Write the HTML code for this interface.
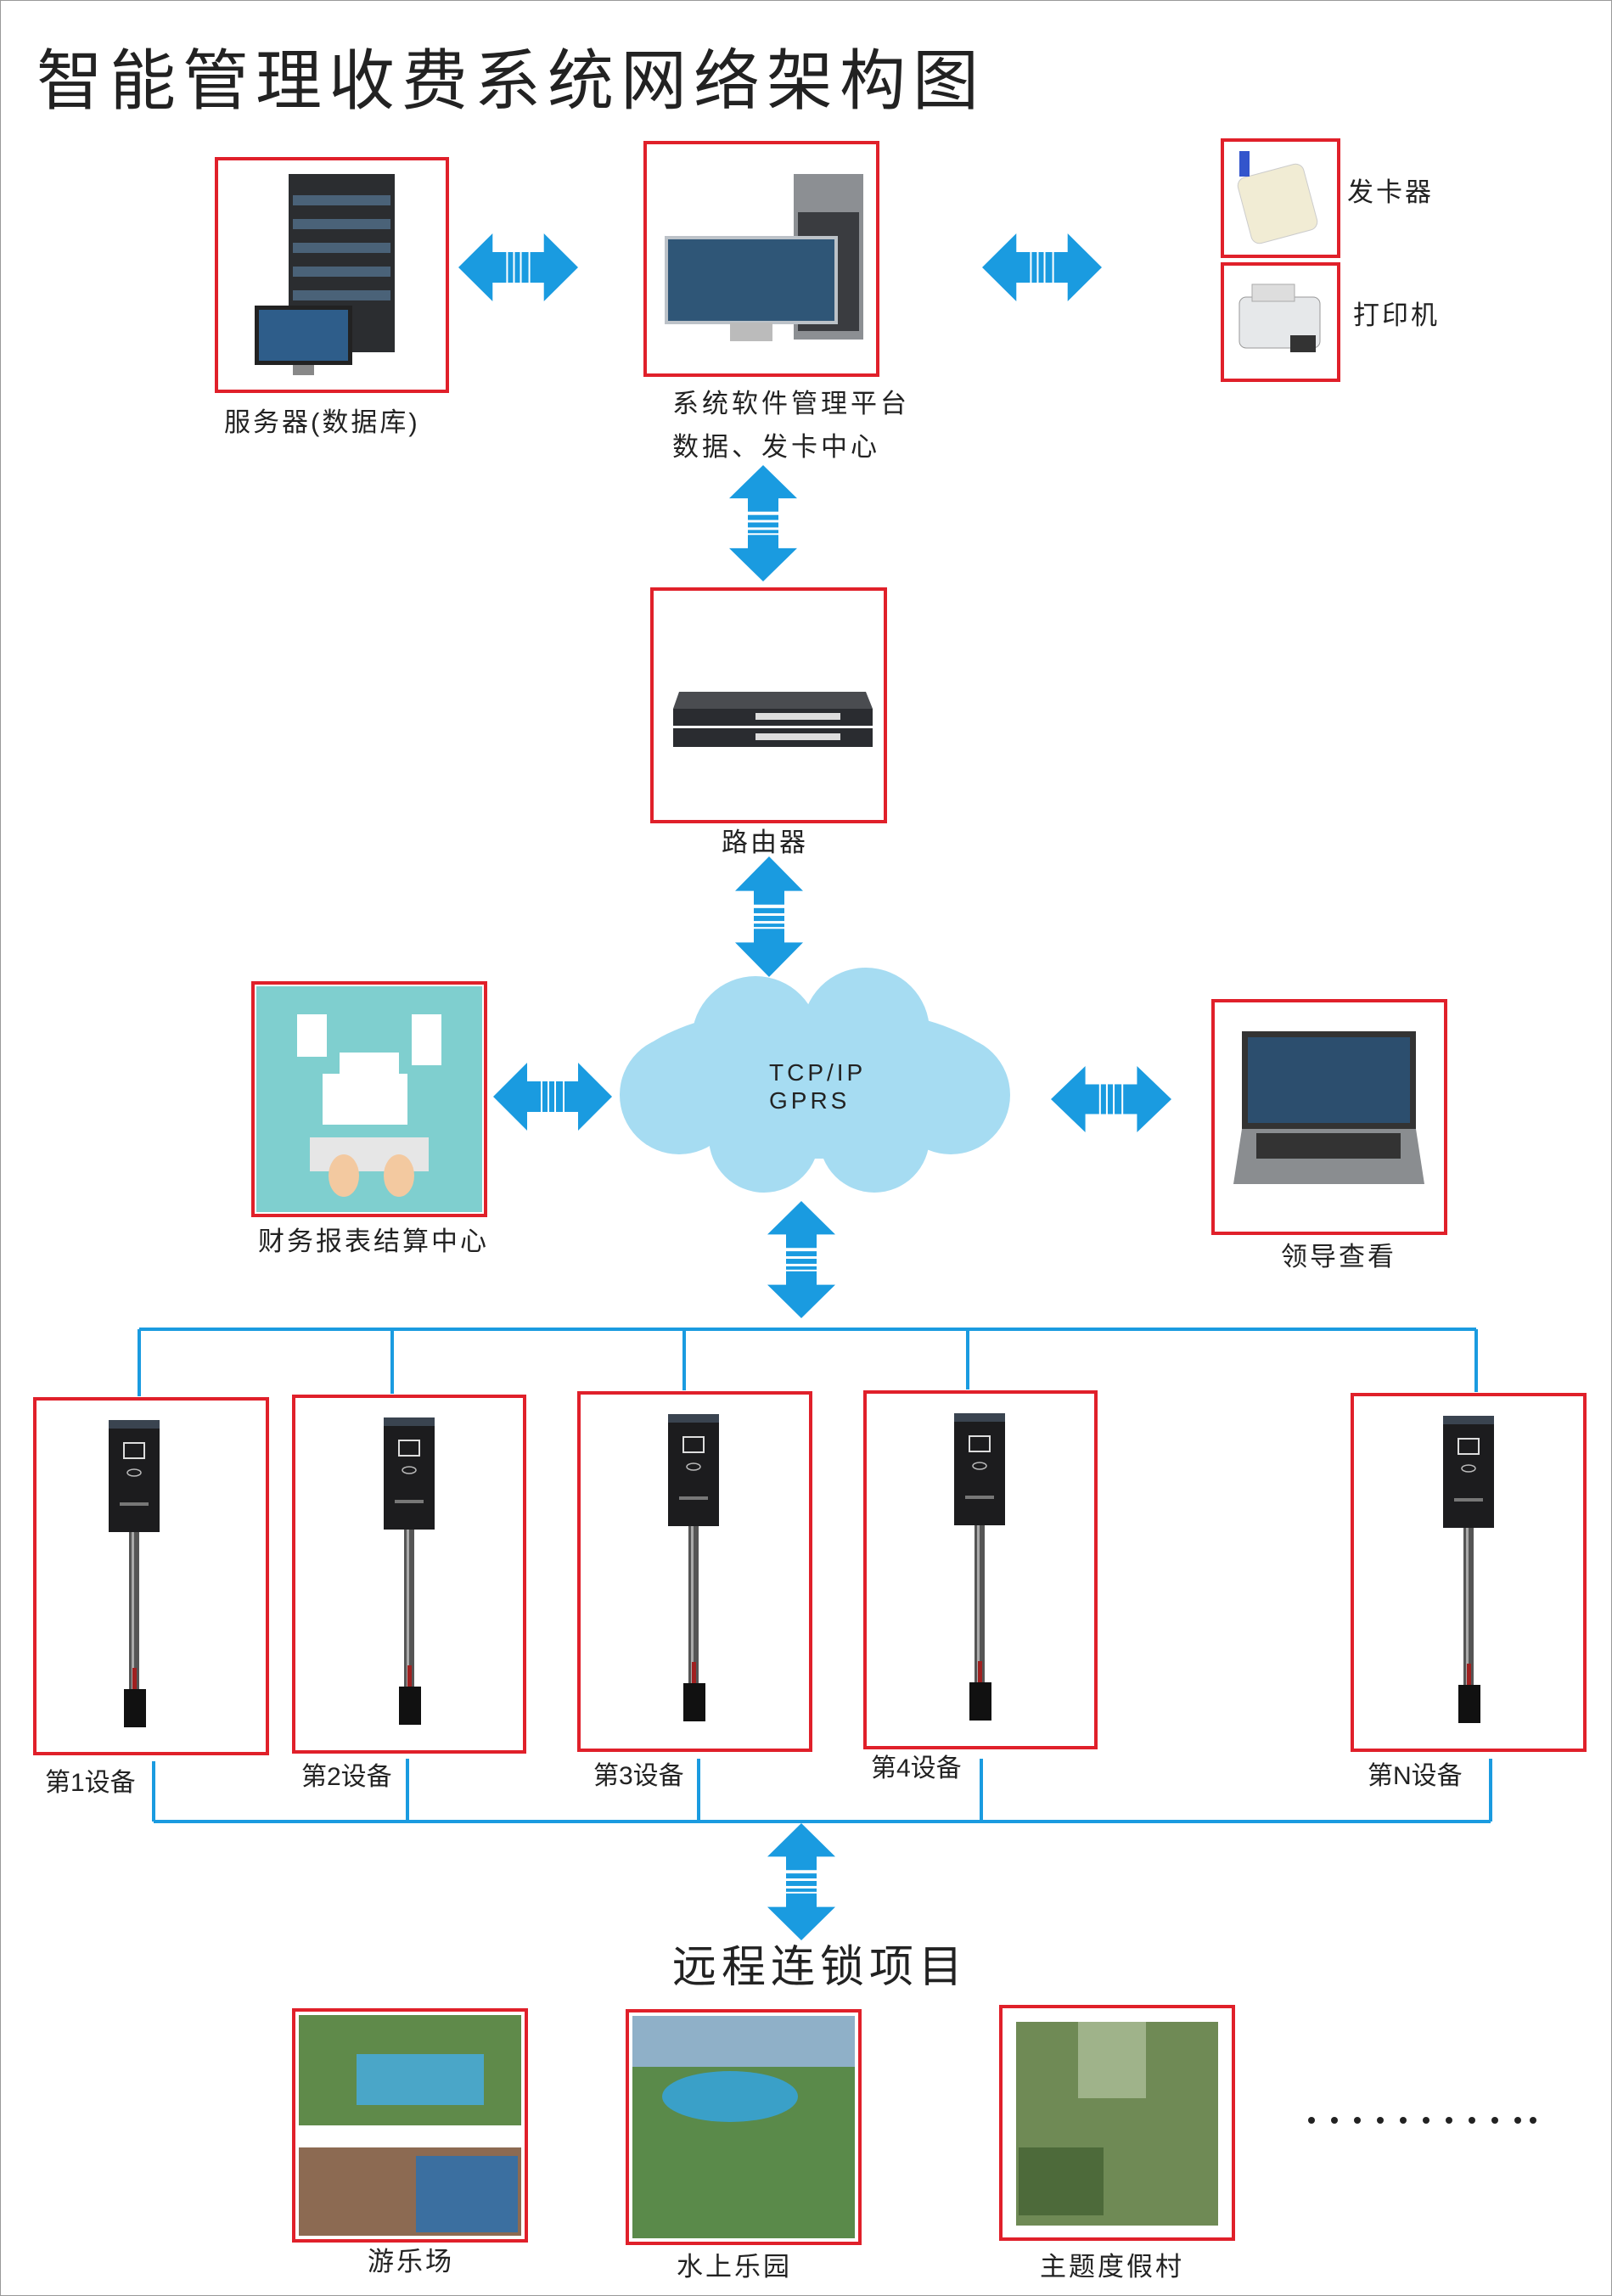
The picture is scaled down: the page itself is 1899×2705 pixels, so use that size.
<!DOCTYPE html>
<html><head><meta charset="utf-8">
<style>
html,body{margin:0;padding:0;background:#fff;}
svg{display:block;}
text{font-family:"Liberation Sans","Noto Sans CJK SC",sans-serif;fill:#222;}
</style></head>
<body>
<svg width="1899" height="2705" viewBox="0 0 1899 2705" xmlns="http://www.w3.org/2000/svg">
<defs>
<symbol id="ah" viewBox="0 0 140 80" preserveAspectRatio="none">
<polygon points="0,40 40,0 40,22 56,22 56,58 40,58 40,80" fill="#1a9be0"/>
<polygon points="140,40 100,0 100,22 84,22 84,58 100,58 100,80" fill="#1a9be0"/>
<rect x="58" y="22" width="6" height="36" fill="#1a9be0"/>
<rect x="66" y="22" width="6" height="36" fill="#1a9be0"/>
<rect x="74" y="22" width="8" height="36" fill="#1a9be0"/>
</symbol>
<symbol id="av" viewBox="0 0 80 140" preserveAspectRatio="none">
<polygon points="40,0 0,40 22,40 22,56 58,56 58,40 80,40" fill="#1a9be0"/>
<polygon points="40,140 0,100 22,100 22,84 58,84 58,100 80,100" fill="#1a9be0"/>
<rect x="22" y="60" width="36" height="6" fill="#1a9be0"/>
<rect x="22" y="69" width="36" height="6" fill="#1a9be0"/>
<rect x="22" y="78" width="36" height="4" fill="#1a9be0"/>
</symbol>
<g id="dev">
<rect x="52" y="28" width="60" height="132" fill="#1c1c1e"/>
<rect x="52" y="28" width="60" height="10" fill="#3a4450"/>
<rect x="70" y="55" width="24" height="18" fill="none" stroke="#ddd" stroke-width="2"/>
<ellipse cx="82" cy="90" rx="8" ry="4" fill="none" stroke="#bbb" stroke-width="1.5"/>
<rect x="65" y="125" width="34" height="4" fill="#777"/>
<rect x="76" y="160" width="12" height="195" fill="#555"/>
<rect x="79" y="160" width="3" height="195" fill="#aaa"/>
<rect x="80" y="320" width="5" height="30" fill="#a02020"/>
<rect x="70" y="345" width="26" height="45" fill="#111"/>
</g>
</defs>

<rect x="0.5" y="0.5" width="1898" height="2704" fill="#fff" stroke="#999" stroke-width="1"/>

<text x="43" y="122" font-size="78" letter-spacing="8" fill="#222">智能管理收费系统网络架构图</text>

<!-- server -->
<rect x="255" y="187" width="272" height="274" fill="#fff" stroke="#e0202a" stroke-width="4"/>
<rect x="340" y="205" width="125" height="210" fill="#2b2d30"/>
<g fill="#4a6278"><rect x="345" y="230" width="115" height="12"/><rect x="345" y="258" width="115" height="12"/><rect x="345" y="286" width="115" height="12"/><rect x="345" y="314" width="115" height="12"/><rect x="345" y="342" width="115" height="12"/></g>
<rect x="300" y="360" width="115" height="70" fill="#222"/><rect x="305" y="365" width="105" height="60" fill="#2e5d8a"/>
<rect x="345" y="430" width="25" height="12" fill="#888"/>
<rect x="540" y="275" width="141" height="80" fill="none"/><use href="#ah" x="540" y="275" width="141" height="80"/>

<!-- platform -->
<rect x="760" y="168" width="274" height="274" fill="#fff" stroke="#e0202a" stroke-width="4"/>
<rect x="935" y="205" width="82" height="195" fill="#8c8f93"/><rect x="940" y="250" width="72" height="140" fill="#3a3c40"/>
<rect x="785" y="280" width="200" height="100" fill="#2f5677" stroke="#bcc2c8" stroke-width="4"/>
<rect x="860" y="380" width="50" height="22" fill="#bbb"/>
<use href="#ah" x="1157" y="275" width="141" height="80"/>

<!-- card reader / printer -->
<rect x="1440" y="165" width="137" height="137" fill="#fff" stroke="#e0202a" stroke-width="4"/>
<rect x="1465" y="200" width="80" height="80" rx="10" fill="#f1ecd4" stroke="#ccc" transform="rotate(-15 1505 240)"/>
<rect x="1460" y="178" width="12" height="30" fill="#3355cc"/>
<rect x="1440" y="311" width="137" height="137" fill="#fff" stroke="#e0202a" stroke-width="4"/>
<rect x="1460" y="350" width="95" height="60" rx="8" fill="#e6e8ea" stroke="#999"/><rect x="1475" y="335" width="50" height="20" fill="#ddd" stroke="#aaa"/><rect x="1520" y="395" width="30" height="20" fill="#333"/>
<text x="1587" y="237" font-size="31" letter-spacing="3">发卡器</text>
<text x="1594" y="382" font-size="31" letter-spacing="3">打印机</text>

<text x="264" y="508" font-size="31" letter-spacing="3">服务器(数据库)</text>
<text x="792" y="486" font-size="31" letter-spacing="4">系统软件管理平台</text>
<text x="792" y="537" font-size="31" letter-spacing="4">数据、发卡中心</text>
<use href="#av" x="859" y="548" width="80" height="137"/>

<!-- router -->
<rect x="768" y="694" width="275" height="274" fill="#fff" stroke="#e0202a" stroke-width="4"/>
<polygon points="800,815 1020,815 1028,835 793,835" fill="#4a4c50"/>
<rect x="793" y="835" width="235" height="20" fill="#2a2c30"/><rect x="793" y="858" width="235" height="22" fill="#2a2c30"/>
<g fill="#ddd"><rect x="890" y="840" width="100" height="8"/><rect x="890" y="864" width="100" height="8"/></g>
<text x="850" y="1003" font-size="31" letter-spacing="3">路由器</text>
<use href="#av" x="866" y="1009" width="80" height="142"/>

<!-- finance -->
<rect x="298" y="1158" width="274" height="274" fill="#fff" stroke="#e0202a" stroke-width="4"/>
<rect x="302" y="1162" width="266" height="266" fill="#7fcfcf"/>
<rect x="400" y="1240" width="70" height="50" fill="#fff"/><rect x="350" y="1195" width="35" height="50" fill="#fff"/><rect x="485" y="1195" width="35" height="60" fill="#fff"/><rect x="380" y="1265" width="100" height="60" fill="#fff"/>
<rect x="365" y="1340" width="140" height="40" fill="#e6e6e6"/>
<ellipse cx="405" cy="1385" rx="18" ry="25" fill="#f3c9a0"/><ellipse cx="470" cy="1385" rx="18" ry="25" fill="#f3c9a0"/>
<use href="#ah" x="581" y="1252" width="140" height="80"/>
<text x="304" y="1473" font-size="31" letter-spacing="3">财务报表结算中心</text>

<!-- cloud -->
<g fill="#a6dcf2">
<ellipse cx="960" cy="1275" rx="225" ry="90"/>
<circle cx="890" cy="1225" r="75"/><circle cx="1020" cy="1215" r="75"/>
<circle cx="800" cy="1290" r="70"/><circle cx="1120" cy="1290" r="70"/>
<circle cx="900" cy="1340" r="65"/><circle cx="1030" cy="1340" r="65"/>
</g>
<text x="906" y="1273" font-size="28" letter-spacing="4" fill="#222">TCP/IP</text>
<text x="906" y="1306" font-size="28" letter-spacing="4" fill="#222">GPRS</text>

<!-- laptop -->
<use href="#ah" x="1238" y="1256" width="142" height="78"/>
<rect x="1429" y="1179" width="274" height="274" fill="#fff" stroke="#e0202a" stroke-width="4"/>
<rect x="1463" y="1215" width="205" height="115" fill="#333" /><rect x="1470" y="1222" width="191" height="101" fill="#2c4e6e"/>
<polygon points="1463,1330 1668,1330 1678,1395 1453,1395" fill="#8a8d90"/>
<rect x="1480" y="1335" width="170" height="30" fill="#333"/>
<text x="1509" y="1491" font-size="31" letter-spacing="3">领导查看</text>
<use href="#av" x="904" y="1415" width="80" height="138"/>

<!-- top bus -->
<g stroke="#1a9be0" stroke-width="4" fill="none">
<line x1="164" y1="1566" x2="1739" y2="1566"/>
<line x1="164" y1="1566" x2="164" y2="1645"/><line x1="462" y1="1566" x2="462" y2="1642"/><line x1="806" y1="1566" x2="806" y2="1638"/><line x1="1140" y1="1566" x2="1140" y2="1637"/><line x1="1739" y1="1566" x2="1739" y2="1640"/>
<line x1="181" y1="2146" x2="1756" y2="2146"/>
<line x1="181" y1="2075" x2="181" y2="2146"/><line x1="480" y1="2072" x2="480" y2="2146"/><line x1="823" y1="2072" x2="823" y2="2146"/><line x1="1156" y1="2072" x2="1156" y2="2146"/><line x1="1756" y1="2072" x2="1756" y2="2146"/>
</g>

<!-- devices -->
<rect x="41" y="1648" width="274" height="418" fill="#fff" stroke="#e0202a" stroke-width="4"/><use href="#dev" x="76" y="1645"/>
<rect x="346" y="1645" width="272" height="419" fill="#fff" stroke="#e0202a" stroke-width="4"/><use href="#dev" x="400" y="1642"/>
<rect x="682" y="1641" width="273" height="421" fill="#fff" stroke="#e0202a" stroke-width="4"/><use href="#dev" x="735" y="1638"/>
<rect x="1019" y="1640" width="272" height="419" fill="#fff" stroke="#e0202a" stroke-width="4"/><use href="#dev" x="1072" y="1637"/>
<rect x="1593" y="1643" width="274" height="419" fill="#fff" stroke="#e0202a" stroke-width="4"/><use href="#dev" x="1648" y="1640"/>
<text x="53" y="2110" font-size="30">第1设备</text>
<text x="355" y="2103" font-size="30">第2设备</text>
<text x="699" y="2102" font-size="30">第3设备</text>
<text x="1026" y="2093" font-size="30">第4设备</text>
<text x="1611" y="2102" font-size="30">第N设备</text>

<use href="#av" x="904" y="2148" width="80" height="138"/>
<text x="792" y="2335" font-size="52" letter-spacing="6">远程连锁项目</text>

<!-- photos -->
<rect x="346" y="2368" width="274" height="272" fill="#fff" stroke="#e0202a" stroke-width="4"/>
<rect x="352" y="2374" width="262" height="130" fill="#5f8a4a"/><rect x="420" y="2420" width="150" height="60" fill="#4aa6c8"/>
<rect x="352" y="2530" width="262" height="104" fill="#8c6a52"/><rect x="490" y="2540" width="120" height="90" fill="#3b6fa0"/>
<rect x="739" y="2369" width="274" height="274" fill="#fff" stroke="#e0202a" stroke-width="4"/>
<rect x="745" y="2375" width="262" height="262" fill="#5a8a4a"/><rect x="745" y="2375" width="262" height="60" fill="#8fb0c8"/><ellipse cx="860" cy="2470" rx="80" ry="30" fill="#3aa0c8"/>
<rect x="1179" y="2364" width="274" height="274" fill="#fff" stroke="#e0202a" stroke-width="4"/>
<rect x="1197" y="2382" width="238" height="240" fill="#6f8a55"/><rect x="1270" y="2382" width="80" height="90" fill="#9fb38a"/><rect x="1200" y="2530" width="100" height="80" fill="#4d6a3a"/>
<text x="433" y="2675" font-size="31" letter-spacing="3">游乐场</text>
<text x="797" y="2681" font-size="31" letter-spacing="3">水上乐园</text>
<text x="1225" y="2681" font-size="31" letter-spacing="3">主题度假村</text>
<g fill="#222"><circle cx="1545" cy="2498" r="4"/><circle cx="1572" cy="2498" r="4"/><circle cx="1599" cy="2498" r="4"/><circle cx="1626" cy="2498" r="4"/><circle cx="1653" cy="2498" r="4"/><circle cx="1680" cy="2498" r="4"/><circle cx="1707" cy="2498" r="4"/><circle cx="1734" cy="2498" r="4"/><circle cx="1761" cy="2498" r="4"/><circle cx="1788" cy="2498" r="4"/><circle cx="1806" cy="2498" r="4"/></g>
</svg>
</body></html>
